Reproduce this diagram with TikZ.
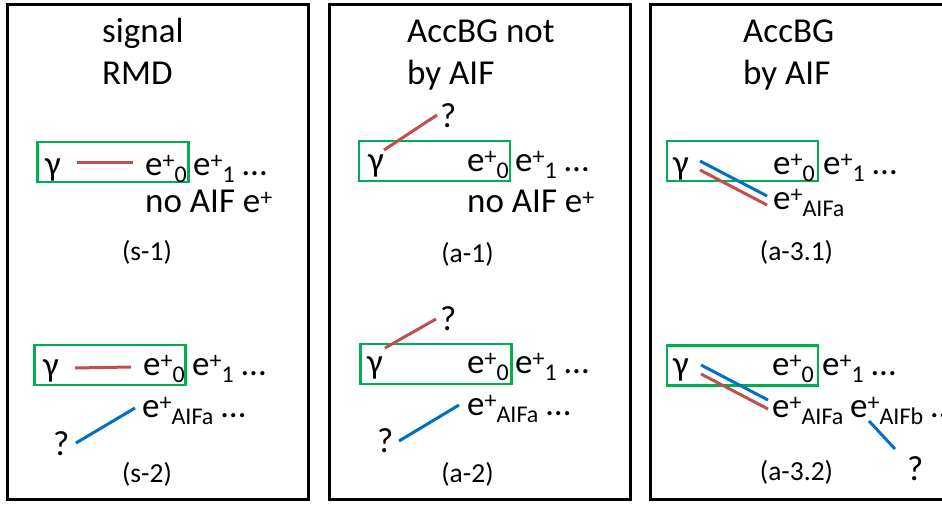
\documentclass[tikz,border=0pt]{standalone}
\usepackage{fontspec}
\setmainfont{Carlito}
\definecolor{boxgreen}{RGB}{0,176,80}
\definecolor{rmdred}{RGB}{192,80,77}
\definecolor{aifblue}{RGB}{0,112,192}
\newcommand{\ep}[1]{e{\fontsize{24}{24}\selectfont\raisebox{7pt}{+}\raisebox{-7pt}{#1}}}
\newcommand{\epsup}{e{\fontsize{24}{24}\selectfont\raisebox{7pt}{+}}}

\begin{document}
\begin{tikzpicture}[x=1pt,y=1pt,
  panel/.style={draw,line width=3pt},
  gbox/.style={draw=boxgreen,line width=2.4pt,minimum width=151pt,minimum height=40pt,inner sep=0pt},
  txt/.style={inner sep=0pt,anchor=base west,font=\fontsize{35}{42}\selectfont},
  tag/.style={inner sep=0pt,anchor=base,font=\fontsize{27.5}{32}\selectfont},
  rline/.style={draw=rmdred,line width=3pt},
  bline/.style={draw=aifblue,line width=3pt}]
  \useasboundingbox (0,0) rectangle (942,-505);
  \draw[panel] (7,-4.5) rectangle (308,-499.5);
  \draw[panel] (329,-4.5) rectangle (630,-499.5);
  \draw[panel] (650,-4.5) rectangle (951,-499.5);
  \node[txt,align=left] (t1) at (102,-85) {signal\\RMD};
  \node[txt,align=left] (t2) at (407,-85) {AccBG not\\by AIF};
  \node[txt,align=left] (t3) at (743,-85) {AccBG\\by AIF};

  \node[gbox] (b1) at (113,-162) {};
  \node[txt] (g1) at (45,-176) {γ};
  \node[txt] (e1) at (145,-176) {\ep{0}};
  \node[txt] (f1) at (193,-176) {\ep{1} …};
  \node[txt] (n1) at (145,-213) {no AIF \epsup};
  \node[tag] (s1) at (147,-260) {(s-1)};
  \draw[rline] ([shift={(32,13)}]g1.base west) -- ([shift={(-12,13)}]e1.base west);

  \node[gbox] (b2) at (110,-365) {};
  \node[txt] (g2) at (43,-376) {γ};
  \node[txt] (e2) at (143,-375) {\ep{0}};
  \node[txt] (f2) at (192,-375) {\ep{1} …};
  \node[txt] (a2) at (142,-417) {\ep{AIFa} …};
  \node[txt] (q2) at (53,-455) {?};
  \node[tag] (s2) at (147,-482) {(s-2)};
  \draw[rline] ([shift={(32,8)}]g2.base west) -- ([shift={(-12,8)}]e2.base west);
  \draw[bline] ([shift={(23,12)}]q2.base west) -- ([shift={(-7,9)}]a2.base west);

  \node[gbox] (b3) at (434.5,-161) {};
  \node[txt] (g3) at (368,-172) {γ};
  \node[txt] (e3) at (467,-172) {\ep{0}};
  \node[txt] (f3) at (515,-172) {\ep{1} …};
  \node[txt] (q3) at (440,-128) {?};
  \node[txt] (n3) at (467,-213) {no AIF \epsup};
  \node[tag] (s3) at (467.5,-262) {(a-1)};
  \draw[rline] ([shift={(16,22)}]g3.base west) -- ([shift={(-3,13)}]q3.base west);

  \node[gbox] (b4) at (436,-364) {};
  \node[txt] (g4) at (367,-373) {γ};
  \node[txt] (e4) at (467,-373) {\ep{0}};
  \node[txt] (f4) at (515,-373) {\ep{1} …};
  \node[txt] (q4) at (440,-330) {?};
  \node[txt] (a4) at (467,-415) {\ep{AIFa} …};
  \node[txt] (q5) at (377,-452) {?};
  \node[tag] (s4) at (467.5,-482) {(a-2)};
  \draw[rline] ([shift={(18,25)}]g4.base west) -- ([shift={(-4,11)}]q4.base west);
  \draw[bline] ([shift={(22,11)}]q5.base west) -- ([shift={(-8,10)}]a4.base west);

  \node[gbox] (b5) at (742.5,-161) {};
  \node[txt] (g5) at (673,-175) {γ};
  \node[txt] (e5) at (773,-175) {\ep{0}};
  \node[txt] (f5) at (823,-175) {\ep{1} …};
  \node[txt] (a5) at (773,-210) {\ep{AIFa}};
  \node[tag] (s5) at (796.5,-260) {(a-3.1)};
  \draw[bline] ([shift={(27,14)}]g5.base west) -- ([shift={(-6,14)}]a5.base west);
  \draw[rline] ([shift={(27,5)}]g5.base west) -- ([shift={(-6,5)}]a5.base west);

  \node[gbox] (b6) at (742.5,-365.5) {};
  \node[txt] (g6) at (673,-375) {γ};
  \node[txt] (e6) at (772,-375) {\ep{0}};
  \node[txt] (f6) at (822,-375) {\ep{1} …};
  \node[txt] (a6) at (772,-417) {\ep{AIFa}};
  \node[txt] (c6) at (850,-417) {\ep{AIFb} …};
  \node[txt] (q6) at (907,-480) {?};
  \node[tag] (s6) at (796.5,-480) {(a-3.2)};
  \draw[bline] ([shift={(28,10)}]g6.base west) -- ([shift={(-4,17)}]a6.base west);
  \draw[rline] ([shift={(28,1)}]g6.base west) -- ([shift={(-4,8)}]a6.base west);
  \draw[bline] ([shift={(19,-4)}]c6.base west) -- ([shift={(-12,31)}]q6.base west);
\end{tikzpicture}
\end{document}
